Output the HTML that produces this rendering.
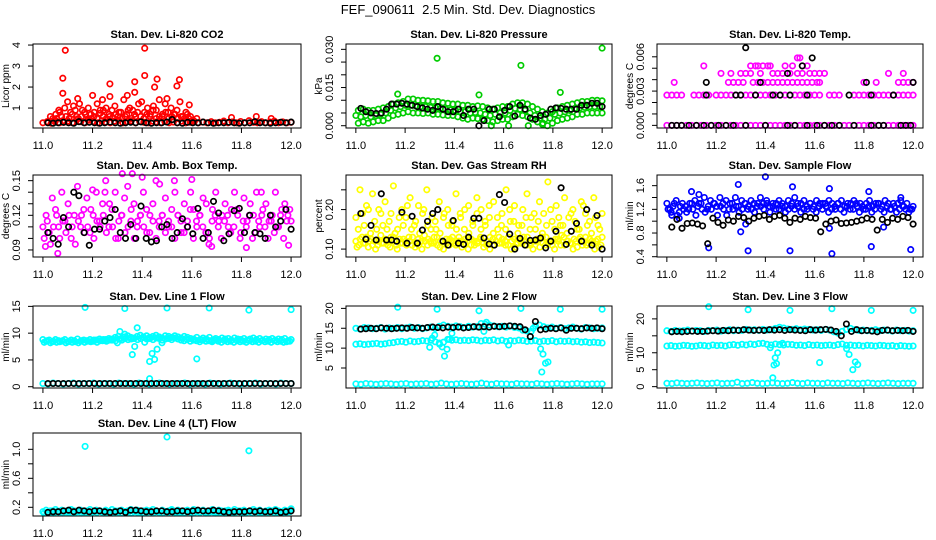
<!DOCTYPE html>
<html><head><meta charset="utf-8"><style>
html,body{margin:0;padding:0;background:#fff;}
svg{display:block;font-family:"Liberation Sans",Arial,sans-serif;}
</style></head><body>
<svg id="chart" width="936" height="540" viewBox="0 0 936 540" xmlns="http://www.w3.org/2000/svg">
<rect width="936" height="540" fill="#fff"/>
<text x="468" y="14" text-anchor="middle" font-size="13" xml:space="preserve">FEF_090611  2.5 Min. Std. Dev. Diagnostics</text>
</svg>
<script>
const xTicks = [11.0, 11.2, 11.4, 11.6, 11.8, 12.0];
const xTickLabels = ["11.0", "11.2", "11.4", "11.6", "11.8", "12.0"];

// ---- Panel 1: CO2 ----
const co2Band = [0.3,0.35,0.28,0.4,0.3,0.32,0.38,0.3,0.45,0.35,0.3,0.42,0.36,0.3,0.4,0.33,0.3,0.38,0.42,0.3,0.35,0.4,0.3,0.36,0.32,0.3,0.38,0.34,0.3,0.36,0.3,0.33,0.3,0.38,0.3,0.32,0.36,0.3,0.33,0.3,0.35,0.3,0.32,0.38,0.3,0.34,0.3,0.36,0.3,0.4,0.32,0.3,0.35,0.3,0.33,0.38,0.3,0.34,0.3,0.32];
const co2Spread = [0.5,0.7,0.9,0.6,1.0,1.3,0.8,1.1,0.6,1.2,0.9,0.7,1.0,0.5,0.8,1.2,0.9,0.6,1.0,0.7,0.9,1.1,0.6,0.8,1.4,0.7,1.0,0.9,0.6,1.2,1.3,0.8,1.0,0.7,1.1,0.9,1.4,0.6,1.2,0.8,1.0,0.7,0.9,1.3,0.6,0.8,0.5,0.4];
const co2Spread2 = [0.6,0.4,0.5,0.8,0.4,0.6,0.5,0.7,0.9,0.5,0.6,0.8,0.45,0.7,0.6,0.5,0.75,0.9,0.5,0.6,0.55,0.7,0.8,0.5,0.6,0.9,0.5,0.7,0.8,0.6,0.5,0.7,0.6,0.9,0.5,0.6,0.7,0.8,0.5,0.6,0.7,0.5,0.6,0.5,0.7,0.6,0.4,0.5];
const co2Outliers = [[11.09,3.75],[11.41,3.85],[11.08,2.42],[11.41,2.55],[11.27,2.15],[11.37,2.25],[11.46,2.38],[11.55,2.35],[11.54,2.05],[11.45,2.0],[11.08,1.7],[11.2,1.6],[11.27,1.55],[11.37,1.75],[11.34,1.6],[11.59,1.15],[11.5,1.45],[11.76,0.55],[11.86,0.6],[11.92,0.5],[11.14,1.45],[11.24,1.4]];
const co2Black = [0.3,0.28,0.3,0.32,0.3,0.28,0.35,0.3,0.32,0.3,0.28,0.3,0.33,0.3,0.28,0.3,0.32,0.3,0.34,0.3,0.28,0.3,0.3,0.33,0.45,0.3,0.28,0.32,0.3,0.3,0.33,0.3,0.28,0.3,0.3,0.32,0.3,0.28,0.3,0.3,0.35,0.3,0.3,0.28,0.3,0.32,0.3,0.33];

// ---- Panel 2: Pressure ----
const presLo = [.001,.0015,.001,.0015,.002,.002,.003,.004,.0045,.005,.0055,.005,.005,.0048,.005,.0045,.0045,.0042,.004,.004,.0035,.003,.0025,.003,.0028,.0025,.002,.0015,.002,.0025,.0025,.0035,.0045,.004,.0035,.0025,.0015,.0005,0,.001,.002,.0025,.003,.0035,.0045,.0045,.005,.005,.005,.005];
const presMid = [.004,.0035,.004,.0035,.004,.0045,.005,.006,.007,.0075,.008,.008,.0078,.0075,.0075,.0072,.007,.0068,.0065,.0062,.006,.0055,.0055,.005,.0052,.005,.0045,.004,.0045,.005,.005,.006,.0068,.0065,.006,.005,.004,.003,.0025,.003,.0045,.005,.0055,.006,.0068,.007,.0072,.0075,.0075,.0075];
const presHi = [.006,.0065,.006,.006,.0065,.007,.0075,.0085,.009,.0095,.0105,.0105,.01,.01,.0098,.0095,.0095,.009,.0088,.0085,.0085,.008,.008,.0075,.0078,.0075,.007,.0065,.007,.0075,.0075,.0085,.009,.009,.0085,.0075,.0065,.0055,.005,.0055,.007,.0075,.008,.0085,.009,.0095,.0095,.01,.01,.0098];
const presOutliers = [[11.33,.0265],[11.67,.0237],[12.0,.0305],[11.17,.0124],[11.5,.0121],[11.83,.0131],[11.55,0],[11.62,0],[11.7,0],[11.76,0.001]];
const presBlack = [.0068,.0055,.005,.0048,.005,.0065,.0085,.0085,.0088,.0085,.008,.0075,.007,.0065,.006,.0075,.0065,.0055,.0055,.0065,.004,.0065,.0065,0,.002,.0065,.0065,.0035,.006,.0075,.0038,.008,.0065,.003,.0025,.004,.0045,.0065,.007,.0068,.0065,.0065,.0065,.008,.008,.0088,.0088,.0075];

// ---- Panel 3: Li-820 Temp (quantized levels) ----
const tempLevels = [0, 0.00265, 0.00376, 0.00455, 0.0052, 0.0059, 0.0068];
const tempMagX = [
 [11.0,11.02,11.04,11.06,11.08,11.1,11.12,11.14,11.16,11.18,11.2,11.22,11.24,11.26,11.28,11.3,11.32,11.34,11.36,11.38,11.4,11.42,11.44,11.46,11.48,11.5,11.52,11.54,11.56,11.58,11.6,11.62,11.64,11.66,11.68,11.7,11.72,11.74,11.76,11.78,11.8,11.82,11.84,11.86,11.88,11.9,11.92,11.94,11.96,11.98,12.0],
 [11.0,11.02,11.04,11.06,11.11,11.13,11.15,11.17,11.2,11.22,11.24,11.26,11.28,11.3,11.32,11.34,11.36,11.38,11.4,11.42,11.44,11.46,11.48,11.5,11.52,11.54,11.56,11.58,11.6,11.62,11.66,11.68,11.7,11.76,11.78,11.8,11.82,11.84,11.86,11.88,11.9,11.92,11.94,11.96,11.98,12.0],
 [11.03,11.25,11.27,11.29,11.31,11.35,11.37,11.39,11.41,11.43,11.45,11.47,11.49,11.51,11.53,11.55,11.57,11.59,11.61,11.62,11.8,11.85,11.94,11.96,11.98,12.0],
 [11.22,11.26,11.3,11.32,11.34,11.38,11.43,11.45,11.47,11.5,11.53,11.55,11.58,11.6,11.62,11.64,11.9,11.96],
 [11.15,11.34,11.36,11.37,11.39,11.41,11.42,11.48,11.51,11.55,11.57],
 [11.53,11.54],
 []
];
const tempBlackX = [
 [11.02,11.04,11.06,11.09,11.12,11.15,11.18,11.21,11.24,11.27,11.32,11.4,11.49,11.52,11.57,11.61,11.64,11.67,11.7,11.76,11.83,11.86,11.88,11.95,11.97,11.99],
 [11.16,11.28,11.3,11.36,11.43,11.46,11.5,11.57,11.74,11.83,11.92],
 [11.16,11.38,11.81,12.0],
 [11.49],
 [11.55],
 [11.59],
 [11.32]
];

// ---- Panel 4: Amb Box Temp ----
const ambA = [0.11,0.12,0.105,0.135,0.125,0.11,0.14,0.115,0.13,0.1,0.12,0.145,0.11,0.125,0.135,0.105,0.12,0.14,0.115,0.13,0.15,0.11,0.125,0.14,0.1,0.12,0.135,0.145,0.115,0.13,0.11,0.12,0.14,0.125,0.105,0.13,0.15,0.115,0.12,0.135,0.11,0.125,0.14,0.12,0.105,0.13,0.115,0.14,0.125,0.11,0.12,0.135,0.13,0.1,0.125,0.14,0.115,0.12,0.13,0.11,0.125,0.14,0.12,0.105,0.135,0.115,0.13,0.12,0.14,0.11,0.125,0.13,0.115,0.12,0.14,0.11,0.125,0.13,0.12,0.115];
const ambB = [0.1,0.115,0.095,0.11,0.12,0.1,0.115,0.105,0.12,0.11,0.095,0.115,0.12,0.105,0.11,0.125,0.1,0.115,0.11,0.12,0.105,0.13,0.11,0.1,0.115,0.12,0.105,0.11,0.125,0.1,0.115,0.12,0.11,0.105,0.12,0.115,0.1,0.11,0.12,0.105,0.115,0.11,0.1,0.12,0.115,0.105,0.11,0.125,0.1,0.115,0.12,0.11,0.105,0.095,0.115,0.12,0.11,0.1,0.115,0.12,0.105,0.11,0.125,0.1,0.115,0.11,0.12,0.1,0.105,0.115,0.12,0.11,0.1,0.115,0.105,0.11,0.12,0.1,0.115,0.125];
const ambOutliers = [[11.01,0.093],[11.06,0.087],[11.32,0.156],[11.36,0.156],[11.4,0.153],[11.6,0.151],[11.53,0.15],[11.68,0.093],[11.82,0.092],[11.99,0.094],[11.2,0.142],[11.25,0.14],[11.47,0.147],[11.88,0.14]];
const ambBlack = [0.105,0.1,0.095,0.118,0.11,0.14,0.137,0.105,0.094,0.108,0.108,0.115,0.118,0.125,0.105,0.1,0.112,0.1,0.128,0.1,0.097,0.098,0.11,0.112,0.1,0.105,0.117,0.11,0.104,0.126,0.1,0.105,0.132,0.122,0.098,0.104,0.124,0.126,0.105,0.12,0.105,0.104,0.1,0.12,0.11,0.115,0.125,0.108];

// ---- Panel 5: Gas Stream RH ----
const rhBand = [0.12,0.11,0.13,0.115,0.105,0.125,0.12,0.11,0.135,0.115,0.12,0.105,0.13,0.11,0.125,0.115,0.12,0.13,0.11,0.105,0.125,0.12,0.135,0.11,0.12,0.115,0.13,0.105,0.12,0.125,0.11,0.13,0.115,0.12,0.105,0.125,0.13,0.11,0.12,0.115,0.125,0.105,0.12,0.13,0.11,0.12,0.115,0.125,0.11,0.13,0.12,0.105,0.125,0.115,0.12,0.13,0.11,0.12,0.125,0.105,0.115,0.13,0.12,0.11,0.125,0.12,0.135,0.11,0.12,0.115,0.125,0.105,0.13,0.12,0.11,0.125,0.115,0.12,0.105,0.13];
const rhBand2 = [0.105,0.125,0.115,0.13,0.12,0.11,0.1,0.12,0.115,0.125,0.11,0.13,0.12,0.1,0.115,0.125,0.11,0.12,0.13,0.115,0.11,0.1,0.12,0.125,0.115,0.13,0.11,0.12,0.1,0.115,0.125,0.12,0.11,0.13,0.12,0.115,0.1,0.125,0.11,0.12,0.13,0.115,0.11,0.1,0.125,0.12,0.13,0.115,0.12,0.11,0.1,0.125,0.115,0.12,0.13,0.11,0.115,0.1,0.12,0.125,0.13,0.11,0.115,0.12,0.1,0.125,0.11,0.13,0.12,0.115,0.1,0.12,0.125,0.11,0.13,0.115,0.12,0.1,0.125,0.11];
const rhScatter = [0.18,0.25,0.16,0.2,0.24,0.15,0.19,0.22,0.17,0.26,0.15,0.2,0.18,0.23,0.16,0.21,0.19,0.25,0.15,0.17,0.22,0.18,0.2,0.16,0.24,0.19,0.15,0.21,0.17,0.23,0.2,0.16,0.18,0.22,0.15,0.19,0.25,0.17,0.21,0.16,0.2,0.24,0.18,0.15,0.22,0.19,0.27,0.17,0.21,0.16,0.23,0.18,0.2,0.15,0.22,0.19,0.17,0.23,0.16,0.19];
const rhScatter2 = [0.15,0.19,0.21,0.14,0.17,0.2,0.16,0.15,0.19,0.14,0.18,0.16,0.21,0.15,0.17,0.14,0.2,0.16,0.18,0.15,0.14,0.19,0.16,0.17,0.15,0.18,0.2,0.14,0.16,0.19,0.15,0.17,0.21,0.14,0.18,0.16,0.15,0.2,0.17,0.14,0.16,0.18,0.15,0.19,0.17,0.14,0.16,0.2,0.15,0.18,0.16,0.14,0.19,0.17,0.15,0.21,0.16,0.14,0.18,0.15];
const rhBlack = [0.19,0.125,0.16,0.123,0.24,0.123,0.123,0.12,0.193,0.115,0.183,0.115,0.148,0.17,0.19,0.2,0.12,0.11,0.172,0.115,0.112,0.13,0.178,0.178,0.128,0.113,0.11,0.238,0.218,0.138,0.1,0.127,0.11,0.122,0.123,0.128,0.103,0.12,0.145,0.255,0.112,0.145,0.165,0.12,0.2,0.11,0.185,0.1];

// ---- Panel 6: Sample Flow ----
const sfA = [1.3,1.2,1.25,1.35,1.15,1.3,1.25,1.2,1.3,1.35,1.25,1.3,1.4,1.2,1.35,1.3,1.25,1.4,1.3,1.35,1.2,1.3,1.4,1.25,1.35,1.3,1.2,1.35,1.3,1.25,1.4,1.3,1.35,1.25,1.3,1.2,1.35,1.3,1.25,1.35,1.3,1.4,1.25,1.3,1.35,1.2,1.3,1.25,1.35,1.3,1.3,1.25,1.35,1.3,1.2,1.3,1.35,1.25,1.3,1.3,1.35,1.25,1.3,1.2,1.3,1.35,1.25,1.3,1.3,1.25,1.35,1.3,1.2,1.25,1.3,1.35,1.25,1.3,1.2,1.25];
const sfB = [1.2,1.15,1.3,1.1,1.25,1.2,1.15,1.3,1.2,1.1,1.3,1.2,1.15,1.25,1.2,1.3,1.1,1.25,1.2,1.1,1.3,1.2,1.25,1.15,1.2,1.3,1.25,1.2,1.15,1.3,1.25,1.2,1.3,1.15,1.25,1.3,1.2,1.25,1.15,1.2,1.25,1.2,1.3,1.15,1.2,1.25,1.3,1.2,1.15,1.25,1.2,1.3,1.15,1.2,1.25,1.3,1.2,1.15,1.25,1.2,1.2,1.3,1.15,1.25,1.2,1.25,1.15,1.2,1.3,1.2,1.15,1.25,1.2,1.3,1.15,1.2,1.25,1.2,1.15,1.2];
const sfOutliers = [[11.17,0.55],[11.33,0.5],[11.5,0.5],[11.67,0.45],[11.83,0.57],[11.99,0.52],[11.4,1.75],[11.29,1.62],[11.51,1.58],[11.66,1.55],[11.82,1.5],[11.1,1.5],[11.13,1.45],[11.3,0.82],[11.32,0.95],[11.66,0.88],[11.88,0.9],[11.95,1.4],[11.05,1.05],[11.02,1.1]];
const sfBlack = [0.9,1.03,0.88,0.96,0.97,0.95,0.92,0.62,1.05,0.98,0.93,1.02,1.0,1.08,1.06,1.0,1.05,1.08,1.1,1.03,1.08,1.1,1.05,0.98,1.05,1.03,1.08,1.06,1.05,0.82,0.95,1.0,1.02,0.96,0.97,0.98,1.0,1.02,1.05,1.03,0.85,1.03,0.98,1.05,1.03,1.08,1.06,0.95];

// ---- Panel 7: Line 1 Flow ----
const l1A = [8.8,8.5,8.7,8.4,8.8,8.6,8.5,8.8,8.4,8.7,8.6,8.9,8.5,8.7,8.6,8.8,8.5,8.7,8.9,8.6,8.8,9.0,8.7,9.2,9.4,9.0,9.3,9.5,9.2,9.0,9.4,9.6,9.3,9.5,9.2,9.4,9.6,9.3,9.1,9.5,9.4,9.2,9.5,9.3,9.1,9.4,9.2,9.0,8.9,9.2,8.8,9.1,8.9,9.2,8.7,9.0,8.8,9.1,8.9,9.0,8.7,9.1,8.9,8.8,9.0,8.7,8.9,9.1,8.8,9.0,8.7,8.9,8.8,9.0,8.7,8.9,8.8,9.0,8.6,8.8];
const l1B = [8.3,8.6,8.2,8.5,8.3,8.4,8.6,8.2,8.5,8.3,8.4,8.2,8.6,8.3,8.5,8.4,8.7,8.3,8.6,8.8,8.5,8.7,8.9,8.6,8.9,8.7,9.0,8.8,8.9,9.1,8.8,9.0,9.2,8.9,9.0,8.8,9.1,9.0,8.7,8.9,9.0,8.8,9.1,8.9,8.7,8.6,8.8,8.5,8.7,8.6,8.4,8.7,8.5,8.6,8.4,8.7,8.5,8.3,8.6,8.4,8.5,8.3,8.6,8.4,8.5,8.3,8.6,8.4,8.5,8.3,8.6,8.4,8.5,8.3,8.6,8.4,8.5,8.3,8.4,8.5];
const l1Low = [0.6,0.5,0.7,0.6,0.5,0.6,0.7,0.5,0.6,0.6,0.7,0.5,0.6,0.6,0.5,0.7,0.6,0.6,0.5,0.7,0.6,0.5,0.6,0.7,0.6,0.5,0.6,0.6,0.7,0.5,0.6,0.6,0.5,0.7,0.6,0.5,0.6,0.7,0.6,0.5,0.6,0.6,0.7,0.5,0.6,0.6,0.5,0.7,0.6,0.6];
const l1Outliers = [[11.17,14.8],[11.33,14.6],[11.5,14.7],[11.67,14.7],[11.83,14.3],[12.0,14.4],[11.36,6],[11.37,7.5],[11.43,4.7],[11.44,6.2],[11.45,5.1],[11.46,7],[11.62,5.2],[11.43,1.5],[11.38,11],[11.31,10.3],[11.33,9.8],[11.3,8.2],[11.41,8.3],[11.48,8.2]];
const l1Black = [0.6,0.6,0.6,0.6,0.6,0.6,0.6,0.6,0.6,0.6,0.6,0.6,0.6,0.6,0.6,0.6,0.6,0.6,0.6,0.6,0.6,0.6,0.6,0.6,0.6,0.6,0.6,0.6,0.6,0.6,0.6,0.6,0.6,0.6,0.6,0.6,0.6,0.6,0.6,0.6,0.6,0.6,0.6,0.6,0.6,0.6,0.6,0.6];

// ---- Panel 8: Line 2 Flow ----
const l2Top = [15,14.8,15.2,15.1,14.9,15,15.2,14.8,15.1,15,15.2,14.9,15.1,15.3,15,15.2,14.9,15.1,15.3,15,15.5,15.8,15.5,15.3,15.6,15.4,15.2,15.5,15.3,15.4,16.2,16,15.8,15.6,15.4,15.5,15.3,15.6,15.2,15.1,14.5,14.3,14.2,15.6,15.8,15.4,15.1,15.3,15,15.2,14.9,15.1,15.3,15,14.8,15.2,15.1,14.9,15,15.1];
const l2Mid = [11,11.1,10.9,11,11.1,11.2,11,11.1,11.3,11.4,11.6,11.7,11.5,11.8,11.6,11.7,11.9,11.8,12,11.6,11.3,11.5,12.2,12,12.1,11.9,12,11.9,12.1,12,11.8,12,11.9,12.1,11.8,12,11.7,11.9,11.8,12,11.9,11.7,11.8,11.9,11.6,11.8,11.7,11.9,11.6,11.8,11.7,11.8,11.6,11.7,11.5,11.6,11.4,11.5,11.4,11.3];
const l2Low = [1,0.9,1.1,1,0.9,1,1.1,1,0.9,1,1.1,0.9,1,1,1.1,0.9,1,1.2,1,0.9,1,1.1,1,0.9,1,1.2,1,0.9,1.1,1,1,0.9,1.1,1,1,0.9,1.1,1,0.9,1,1.1,1,0.9,1,1.1,1,0.9,1,1,1];
const l2Outliers = [[11.17,20.3],[11.33,19.8],[11.5,19.4],[11.67,20],[11.83,19.8],[12.0,19.8],[11.3,10.2],[11.31,12.5],[11.32,13.3],[11.34,11],[11.35,10.3],[11.36,8],[11.37,9.7],[11.38,12.2],[11.39,13.7],[11.52,14.2],[11.53,16.5],[11.75,9.8],[11.76,8.5],[11.77,6.2],[11.78,6.5],[11.755,4],[11.62,10.8],[11.72,15]];
const l2Black = [14.8,14.9,15,14.9,15.1,15,14.9,15,15.1,15,15.2,15.1,15,15.2,15.3,15.2,15.1,15.3,15.2,15.3,15.1,15.2,15.4,15.3,15.4,15.3,15.5,15.4,15.5,15.6,15.5,15.4,14.6,12.9,16.7,14.6,14.8,15,14.9,15.1,14.5,15,15,14.9,15.1,15,15.1,14.9];

// ---- Panel 9: Line 3 Flow ----
const l3Top = [16.5,16.3,16.6,16.4,16.5,16.7,16.4,16.6,16.5,16.3,16.6,16.5,16.7,16.4,16.6,16.8,16.5,16.7,16.6,16.9,16.7,16.8,16.6,16.9,16.7,16.8,17.2,17.5,17.3,17,16.9,17.1,16.8,17,16.9,16.7,16.8,16.6,16.9,16.7,16.2,15.8,16.3,16.9,17.2,16.8,16.6,16.7,16.5,16.6,16.8,16.5,16.7,16.6,16.4,16.7,16.5,16.6,16.4,16.5];
const l3Mid = [12,12.1,11.9,12,12.2,12.1,11.9,12,12.2,12.1,12,12.3,12.1,12.2,12,12.3,12.4,12.2,12.5,12.3,12.6,12.4,12.7,12.8,12.5,12.3,12.6,12.4,12.3,12.5,12.4,12.2,12.3,12.1,12.4,12.2,12.3,12.1,12.2,12.3,12.1,12.4,12.6,12.2,12.3,12.1,12.2,12,12.2,12.1,12,12.2,12.1,12,12.1,11.9,12.1,12,11.9,12];
const l3Low = [1,0.9,1.1,1,0.9,1,1.1,1,0.9,1,1.1,0.9,1,1,1.3,0.9,1,1.2,1,0.9,1,1.1,1,0.9,1,1.2,1,0.9,1.1,1,1,0.9,1.1,1,1,0.9,1.1,1,0.9,1,1.1,1,0.9,1,1.1,1,0.9,1,1,1];
const l3Outliers = [[11.17,23.6],[11.33,22.7],[11.5,22.5],[11.67,23],[11.83,22.5],[12.0,22.5],[11.43,2.6],[11.435,6.4],[11.44,8.5],[11.445,6.8],[11.45,10],[11.62,7.1],[11.74,9.5],[11.755,5],[11.765,7.3],[11.775,6.5],[11.42,11.5],[11.47,12.8],[11.73,11.2]];
const l3Black = [16.2,16.3,16.2,16.3,16.4,16.3,16.3,16.4,16.5,16.4,16.6,16.5,16.7,16.6,16.8,16.7,16.6,16.7,16.6,16.8,16.7,16.8,16.6,16.8,16.7,16.6,16.5,16.8,16.7,16.8,16.9,16.7,16.3,15,18.5,16.3,16.8,16.5,16.6,16.4,16.2,16.6,16.7,16.5,16.6,16.5,16.6,16.3];

// ---- Panel 10: Line 4 (LT) Flow ----
const l4A = [0.14,0.16,0.13,0.15,0.17,0.14,0.16,0.15,0.13,0.17,0.15,0.14,0.16,0.13,0.15,0.17,0.14,0.16,0.15,0.13,0.16,0.14,0.17,0.15,0.13,0.16,0.14,0.15,0.17,0.14,0.16,0.13,0.15,0.16,0.14,0.17,0.15,0.13,0.16,0.14,0.15,0.17,0.14,0.16,0.13,0.15,0.16,0.14,0.17,0.15,0.13,0.16,0.14,0.15,0.17,0.14,0.16,0.13,0.15,0.16,0.14,0.17,0.15,0.13,0.16,0.14,0.15,0.17,0.14,0.16,0.13,0.15,0.16,0.14,0.17,0.15,0.13,0.16,0.15,0.18];
const l4B = [0.12,0.13,0.15,0.12,0.14,0.13,0.12,0.14,0.15,0.12,0.13,0.14,0.12,0.15,0.13,0.12,0.14,0.13,0.15,0.12,0.13,0.14,0.12,0.13,0.15,0.12,0.14,0.13,0.12,0.15,0.13,0.14,0.12,0.13,0.15,0.12,0.14,0.13,0.12,0.14,0.13,0.15,0.12,0.13,0.14,0.12,0.15,0.13,0.12,0.14,0.13,0.15,0.12,0.13,0.14,0.12,0.13,0.15,0.12,0.14,0.13,0.12,0.14,0.15,0.12,0.13,0.14,0.12,0.15,0.13,0.12,0.14,0.13,0.15,0.12,0.13,0.14,0.12,0.13,0.14];
const l4Outliers = [[11.17,1.04],[11.5,1.17],[11.83,0.98]];
const l4Black = [0.13,0.14,0.14,0.15,0.16,0.14,0.16,0.15,0.14,0.15,0.15,0.14,0.13,0.14,0.15,0.13,0.16,0.16,0.15,0.14,0.14,0.15,0.15,0.14,0.14,0.15,0.15,0.14,0.15,0.16,0.15,0.15,0.16,0.15,0.14,0.13,0.14,0.14,0.14,0.15,0.14,0.15,0.14,0.14,0.15,0.13,0.14,0.15];

const svg = document.getElementById('chart');
const NS = 'http://www.w3.org/2000/svg';
function mk(tag, attrs, parent) {
  const e = document.createElementNS(NS, tag);
  for (const k in attrs) e.setAttribute(k, attrs[k]);
  (parent || svg).appendChild(e);
  return e;
}
function evenX(n, x0, x1) { const a = []; for (let i = 0; i < n; i++) a.push(x0 + (x1 - x0) * (n === 1 ? 0 : i / (n - 1))); return a; }

function panel(cfg) {
  const g = mk('g', {});
  
  
  const L = cfg.box[0], R = cfg.box[1], T = cfg.box[2], B = cfg.box[3];
  const xs = v => L + (v - 10.96) / 1.08 * (R - L);
  const ys = v => B - (v - cfg.ylo) / (cfg.yhi - cfg.ylo) * (B - T);
  const t = mk('text', {x: (L + R) / 2, y: T - 6, 'text-anchor': 'middle', 'font-size': 11, 'font-weight': 'bold'}, g);
  t.textContent = cfg.title;
  
  
  const xa = mk('g', {stroke: '#000', 'stroke-width': 1}, g);
  
  
  xTicks.forEach((v, i) => {
    mk('line', {x1: xs(v), x2: xs(v), y1: B, y2: B + 5}, xa);
    const tl = mk('text', {x: xs(v), y: B + 21, 'text-anchor': 'middle', 'font-size': 11, stroke: 'none'}, xa);
    tl.textContent = xTickLabels[i];
    
    
  });
  const ya = mk('g', {stroke: '#000', 'stroke-width': 1}, g);
  
  
  cfg.yTicks.forEach((v, i) => {
    mk('line', {x1: L - 5, x2: L, y1: ys(v), y2: ys(v)}, ya);
    const lab = cfg.yLabels[i];
    if (lab) {
      const tl = mk('text', {x: 0, y: 0, transform: `translate(${L - 13},${ys(v)}) rotate(-90)`, 'text-anchor': 'middle', 'font-size': 11, stroke: 'none'}, ya);
      tl.textContent = lab;
      
      
    }
  });
  const yt = mk('text', {x: 0, y: 0, transform: `translate(${L - 24},${(T + B) / 2}) rotate(-90)`, 'text-anchor': 'middle', 'font-size': 10}, g);
  yt.textContent = cfg.ylab;
  
  
  const pts = mk('g', {fill: 'none', 'stroke-width': 1.7}, g);
  
  
  cfg.series.forEach(s => {
    const sg = mk('g', {stroke: s.color}, pts);
    
    
    s.x.forEach((xv, i) => {
      const c = mk('circle', {cx: xs(xv).toFixed(1), cy: ys(s.y[i]).toFixed(1), r: 2.7}, sg);
      
      
    });
  });
  const bx = mk('rect', {x: L, y: T, width: R - L, height: B - T, fill: 'none', stroke: '#000', 'stroke-width': 1}, g);
  
  
}
function ser(name, color, x, y) { return {name, color, x, y}; }
function evenSer(name, color, arr, x0, x1) { return ser(name, color, evenX(arr.length, x0, x1), arr); }
function pairSer(name, color, pairs) { return ser(name, color, pairs.map(p => p[0]), pairs.map(p => p[1])); }
function levelSer(name, color, xLists) {
  const x = [], y = [];
  xLists.forEach((lst, li) => lst.forEach(v => { x.push(v); y.push(tempLevels[li]); }));
  return ser(name, color, x, y);
}

const C1 = [33, 301], C2 = [346, 612], C3 = [657, 923];
const R1 = [44, 128], R2 = [175, 257], R3 = [306, 388], R4 = [433, 516];
const box = (c, r) => [c[0], c[1], r[0], r[1]];
const RED = '#ff0000', GRN = '#00cc00', MAG = '#ff00ff', YEL = '#ffff00', BLU = '#0000ff', CYA = '#00ffff', BLK = '#000000';

panel({name: 'panel-co2', box: box(C1, R1), title: 'Stan. Dev. Li-820 CO2', ylab: 'Licor ppm', ylo: 0.05, yhi: 4.05,
  yTicks: [1, 2, 3, 4], yLabels: ['1', '2', '3', '4'],
  series: [evenSer('co2-band', RED, co2Band, 11.0, 12.0), evenSer('co2-spread', RED, co2Spread, 11.04, 11.6), evenSer('co2-spread2', RED, co2Spread2, 11.03, 11.62),
    pairSer('co2-outliers', RED, co2Outliers), evenSer('co2-black', BLK, co2Black, 11.02, 12.0)]});
panel({name: 'panel-pressure', box: box(C2, R1), title: 'Stan. Dev. Li-820 Pressure', ylab: 'kPa', ylo: -0.0009, yhi: 0.0321,
  yTicks: [0, .005, .01, .015, .02, .025, .03], yLabels: ['0.000', '', '', '0.015', '', '', '0.030'],
  series: [evenSer('pres-lo', GRN, presLo, 11.01, 12.0), evenSer('pres-mid', GRN, presMid, 11.0, 11.99), evenSer('pres-hi', GRN, presHi, 11.01, 12.0),
    pairSer('pres-outliers', GRN, presOutliers), evenSer('pres-black', BLK, presBlack, 11.02, 12.0)]});
panel({name: 'panel-temp', box: box(C3, R1), title: 'Stan. Dev. Li-820 Temp.', ylab: 'degrees C', ylo: -0.00023, yhi: 0.00712,
  yTicks: [0, .001, .002, .003, .004, .005, .006], yLabels: ['0.000', '', '', '0.003', '', '', '0.006'],
  series: [levelSer('temp-magenta', MAG, tempMagX), levelSer('temp-black', BLK, tempBlackX)]});
panel({name: 'panel-ambtemp', box: box(C1, R2), title: 'Stan. Dev. Amb. Box Temp.', ylab: 'degrees C', ylo: 0.0839, yhi: 0.1549,
  yTicks: [.09, .1, .11, .12, .13, .14, .15], yLabels: ['0.09', '', '', '0.12', '', '', '0.15'],
  series: [evenSer('amb-a', MAG, ambA, 11.0, 12.0), evenSer('amb-b', MAG, ambB, 11.005, 11.995), pairSer('amb-outliers', MAG, ambOutliers), evenSer('amb-black', BLK, ambBlack, 11.02, 12.0)]});
panel({name: 'panel-rh', box: box(C2, R2), title: 'Stan. Dev. Gas Stream RH', ylab: 'percent', ylo: 0.08, yhi: 0.2875,
  yTicks: [.1, .15, .2, .25], yLabels: ['0.10', '', '0.20', ''],
  series: [evenSer('rh-band', YEL, rhBand, 11.0, 12.0), evenSer('rh-band2', YEL, rhBand2, 11.005, 11.995), evenSer('rh-scatter', YEL, rhScatter, 11.0, 12.0), evenSer('rh-scatter2', YEL, rhScatter2, 11.01, 11.99), evenSer('rh-black', BLK, rhBlack, 11.02, 12.0)]});
panel({name: 'panel-sampleflow', box: box(C3, R2), title: 'Stan. Dev. Sample Flow', ylab: 'ml/min', ylo: 0.395, yhi: 1.78,
  yTicks: [.4, .6, .8, 1.0, 1.2, 1.4, 1.6], yLabels: ['0.4', '', '0.8', '', '1.2', '', '1.6'],
  series: [evenSer('sf-a', BLU, sfA, 11.0, 12.0), evenSer('sf-b', BLU, sfB, 11.005, 11.995), pairSer('sf-outliers', BLU, sfOutliers), evenSer('sf-black', BLK, sfBlack, 11.02, 12.0)]});
panel({name: 'panel-line1', box: box(C1, R3), title: 'Stan. Dev. Line 1 Flow', ylab: 'ml/min', ylo: -0.24, yhi: 15.07,
  yTicks: [0, 5, 10, 15], yLabels: ['0', '5', '10', '15'],
  series: [evenSer('l1-a', CYA, l1A, 11.0, 12.0), evenSer('l1-b', CYA, l1B, 11.005, 11.995), evenSer('l1-low', CYA, l1Low, 11.0, 12.0), pairSer('l1-outliers', CYA, l1Outliers), evenSer('l1-black', BLK, l1Black, 11.02, 12.0)]});
panel({name: 'panel-line2', box: box(C2, R3), title: 'Stan. Dev. Line 2 Flow', ylab: 'ml/min', ylo: -0.03, yhi: 20.6,
  yTicks: [5, 10, 15, 20], yLabels: ['5', '10', '15', '20'],
  series: [evenSer('l2-top', CYA, l2Top, 11.0, 12.0), evenSer('l2-mid', CYA, l2Mid, 11.0, 12.0), evenSer('l2-low', CYA, l2Low, 11.0, 12.0), pairSer('l2-outliers', CYA, l2Outliers), evenSer('l2-black', BLK, l2Black, 11.02, 12.0)]});
panel({name: 'panel-line3', box: box(C3, R3), title: 'Stan. Dev. Line 3 Flow', ylab: 'ml/min', ylo: -0.4, yhi: 23.8,
  yTicks: [0, 5, 10, 15, 20], yLabels: ['0', '5', '10', '', '20'],
  series: [evenSer('l3-top', CYA, l3Top, 11.0, 12.0), evenSer('l3-mid', CYA, l3Mid, 11.0, 12.0), evenSer('l3-low', CYA, l3Low, 11.0, 12.0), pairSer('l3-outliers', CYA, l3Outliers), evenSer('l3-black', BLK, l3Black, 11.02, 12.0)]});
panel({name: 'panel-line4', box: box(C1, R4), title: 'Stan. Dev. Line 4 (LT) Flow', ylab: 'ml/min', ylo: 0.08, yhi: 1.225,
  yTicks: [.2, .4, .6, .8, 1.0], yLabels: ['0.2', '', '0.6', '', '1.0'],
  series: [evenSer('l4-a', CYA, l4A, 11.0, 12.0), evenSer('l4-b', CYA, l4B, 11.005, 11.995), pairSer('l4-outliers', CYA, l4Outliers), evenSer('l4-black', BLK, l4Black, 11.02, 12.0)]});
</script>
</body></html>
